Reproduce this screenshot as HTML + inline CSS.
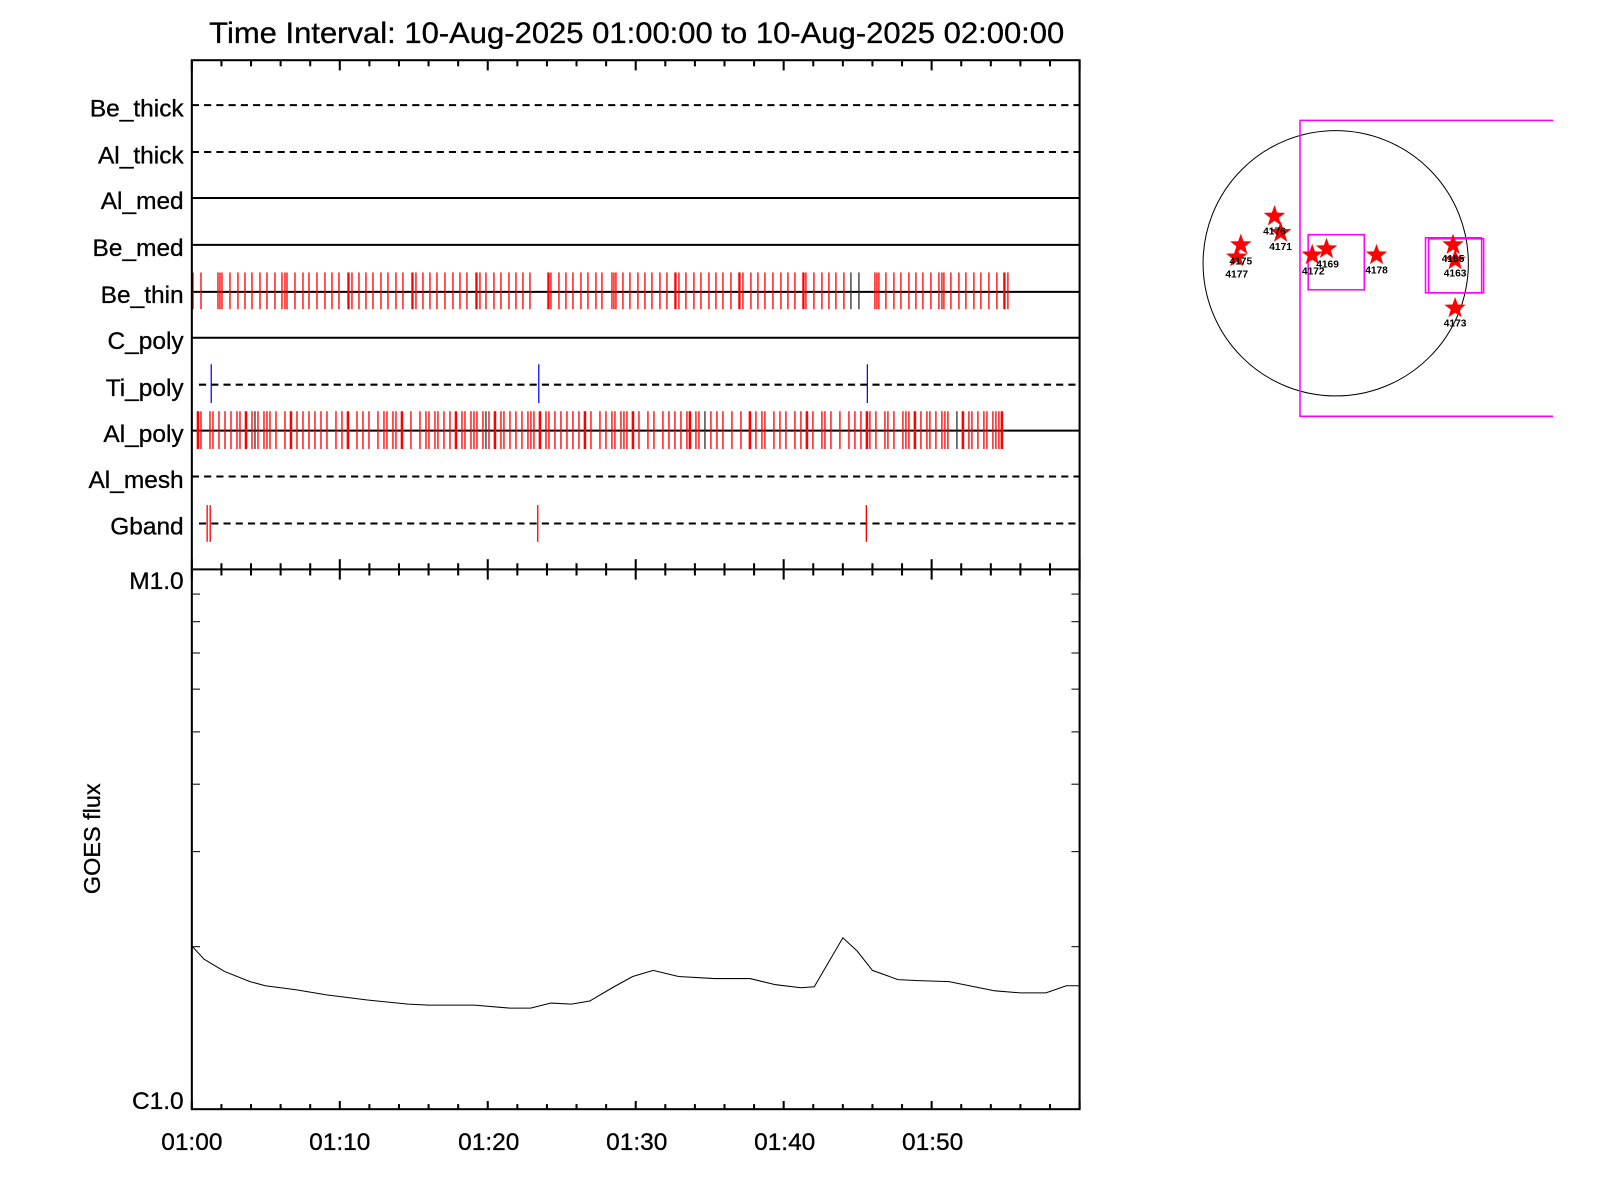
<!DOCTYPE html>
<html><head><meta charset="utf-8"><style>
html,body{margin:0;padding:0;background:#fff;width:1600px;height:1200px;overflow:hidden}
svg text{font-family:"Liberation Sans",sans-serif;fill:#000}
</style></head><body>
<svg id="s" width="1600" height="1200" viewBox="0 0 1568 1176" xmlns="http://www.w3.org/2000/svg">
<rect width="1568" height="1176" fill="#fff"/>
<text x="624" y="42" font-size="29" text-anchor="middle" textLength="838" lengthAdjust="spacingAndGlyphs" stroke="#000" stroke-width="0.3">Time Interval: 10-Aug-2025 01:00:00 to 10-Aug-2025 02:00:00</text>
<g font-size="24" text-anchor="end" stroke="#000" stroke-width="0.3">
<text x="180" y="114">Be_thick</text>
<text x="180" y="160">Al_thick</text>
<text x="180" y="205">Al_med</text>
<text x="180" y="251">Be_med</text>
<text x="180" y="297">Be_thin</text>
<text x="180" y="342">C_poly</text>
<text x="180" y="388">Ti_poly</text>
<text x="180" y="433">Al_poly</text>
<text x="180" y="478">Al_mesh</text>
<text x="180" y="524">Gband</text>
<text x="180" y="577">M1.0</text>
<text x="180" y="1087">C1.0</text>
</g>
<g font-size="24" text-anchor="middle" stroke="#000" stroke-width="0.3">
<text x="188" y="1127">01:00</text><text x="333" y="1127">01:10</text><text x="479" y="1127">01:20</text>
<text x="624" y="1127">01:30</text><text x="769" y="1127">01:40</text><text x="914" y="1127">01:50</text>
</g>
<text transform="translate(98,822) rotate(-90)" font-size="23" text-anchor="middle" stroke="#000" stroke-width="0.3">GOES flux</text>
<g stroke="#000" stroke-width="2" fill="none">
<line x1="188" y1="103" x2="1058" y2="103" stroke-dasharray="7,5"/>
<line x1="188" y1="149" x2="1058" y2="149" stroke-dasharray="7,5"/>
<line x1="188" y1="194" x2="1058" y2="194"/>
<line x1="188" y1="240" x2="1058" y2="240"/>
<line x1="188" y1="286" x2="1058" y2="286"/>
<line x1="188" y1="331" x2="1058" y2="331"/>
<line x1="195" y1="377" x2="1058" y2="377" stroke-dasharray="7,5"/>
<line x1="188" y1="422" x2="1058" y2="422"/>
<line x1="188" y1="467" x2="1058" y2="467" stroke-dasharray="7,5"/>
<line x1="195" y1="513" x2="1058" y2="513" stroke-dasharray="7,5"/>
</g>
<g id="ticks"></g>
<g stroke="#00f" stroke-width="1.2">
<line x1="207" y1="357" x2="207" y2="395"/><line x1="528" y1="357" x2="528" y2="395"/><line x1="850" y1="357" x2="850" y2="395"/>
</g>
<g stroke="#f00" stroke-width="1.3">
<line x1="203" y1="495" x2="203" y2="531"/><line x1="206" y1="495" x2="206" y2="531"/>
<line x1="527" y1="495" x2="527" y2="531"/><line x1="849" y1="495" x2="849" y2="531"/>
</g>
<polyline fill="none" stroke="#000" stroke-width="1" points="188,927 200,940 220,952 245,962 260,966 290,970 320,975 360,980 400,984 420,985 465,985 500,988 520,988 540,983 560,984 578,981 600,968 620,957 640,951 665,957 700,959 735,959 760,965 785,968 798,967 812,943 826,919 840,932 855,951 880,960 900,961 930,962 950,966 975,971 1000,973 1025,973 1045,966 1058,966"/>
<g stroke="#000" stroke-width="2" fill="none">
<rect x="188" y="59" width="870" height="1028"/>
<line x1="188" y1="558" x2="1058" y2="558"/>
</g>
<g id="axt" stroke="#000" stroke-width="2"></g>
<circle cx="1309" cy="258" r="130" fill="none" stroke="#000" stroke-width="1"/>
<g fill="none" stroke="#f0f" stroke-width="1.5">
<polyline points="1522,118 1274,118 1274,408 1522,408"/>
<rect x="1282" y="230" width="55" height="54"/>
<rect x="1397" y="233" width="55" height="54"/>
<rect x="1400" y="234" width="54" height="53"/>
</g>
<g id="stars" fill="#f00"></g>
<g font-size="10" font-weight="bold" text-anchor="middle">
<text x="1249" y="230">4176</text><text x="1255" y="245">4171</text>
<text x="1216" y="259">4175</text><text x="1212" y="272">4177</text>
<text x="1287" y="269">4172</text><text x="1301" y="262">4169</text>
<text x="1349" y="268">4178</text><text x="1424" y="257">4165</text>
<text x="1426" y="271">4163</text><text x="1426" y="320">4173</text>
</g>
</svg>
<script>
var NS="http://www.w3.org/2000/svg";
function L(g,x1,y1,x2,y2,c,w){var l=document.createElementNS(NS,"line");l.setAttribute("x1",x1);l.setAttribute("y1",y1);l.setAttribute("x2",x2);l.setAttribute("y2",y2);l.setAttribute("stroke",c);l.setAttribute("stroke-width",w);g.appendChild(l);}
var k=1/1.0205,T=document.getElementById("ticks");
var bt=[193,201,218,220,222,230,238,245,252,260,267,275,282,285,287,295,303,309,317,325,332,339,348,349,352,359,366,373,381,388,396,403,412,413,416,423,430,437,445,453,460,467,476,477,480,486,494,501,509,516,523,530,548,549,551,559,566,573,581,588,596,602,612,614,616,623,630,638,645,652,660,667,675,676,679,686,694,701,709,716,723,731,739,740,743,751,758,765,773,781,788,795,803,804,806,814,822,829,836,844,851,859,875,877,879,886,894,901,909,916,923,931,939,942,944,951,959,966,974,981,989,997,1004,1005,1008];
bt.forEach(function(x,i){L(T,x*k,267,x*k,303,(i==100||i==101)?"#333":"#f00",1.3);});
var x=198,i=0;
while(x<1011){ if(!(x>542&&x<545)&&!(x>870&&x<873)){L(T,x*k,403,x*k,440,(i%41==11)?"#333":"#f00",(i%9==0)?2.5:1.3);}
 var r=Math.abs((Math.sin(i*12.9898)*43758.5453)%1); x+= r<0.3?3:(r<0.85?6:9); i++;}
var A=document.getElementById("axt");
for(var m=0;m<=30;m++){var xx=188+m*870/30,big=(m%5==0),h=big?10:6;
 L(A,xx,59,xx,59+h,"#000",2); L(A,xx,558-h,xx,558+h,"#000",2); L(A,xx,1087,xx,1087-(big?8:5),"#000",2);}
for(var n=2;n<=9;n++){var yy=1087-529*Math.log10(n);L(A,188,yy,196,yy,"#000",1);L(A,1050,yy,1058,yy,"#000",1);}
var S=document.getElementById("stars");
[[1249,212],[1255,228],[1216,240],[1212,252],[1286,250],[1300,244],[1349,250],[1424,240],[1426,255],[1426,302]].forEach(function(p){
 var pts=[];for(var j=0;j<10;j++){var a=-Math.PI/2+j*Math.PI/5,r=j%2?4.5:11;pts.push((p[0]+r*Math.cos(a)).toFixed(1)+","+(p[1]+r*Math.sin(a)).toFixed(1));}
 var g=document.createElementNS(NS,"polygon");g.setAttribute("points",pts.join(" "));S.appendChild(g);});
</script>
</body></html>
